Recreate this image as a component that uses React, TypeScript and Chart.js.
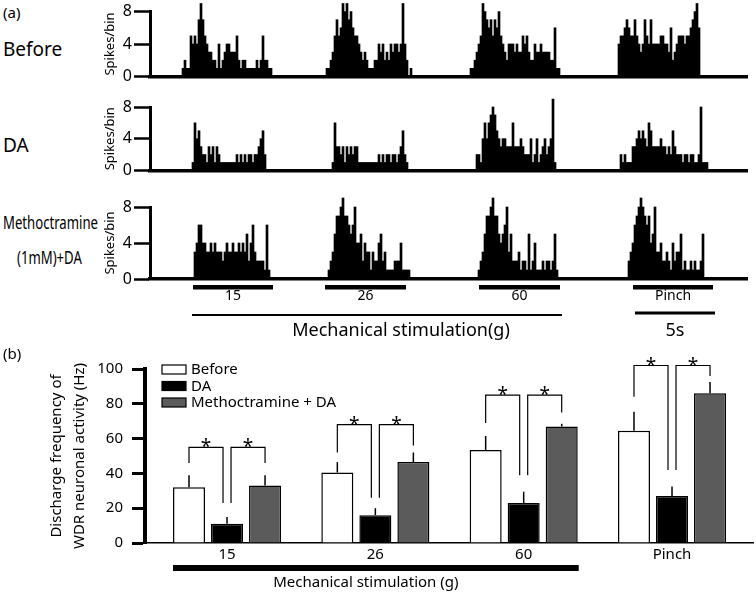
import React, { useEffect, useRef } from "react";
import { Chart, registerables } from "chart.js";
Chart.register(...registerables);

const FONT = "'Noto Sans', 'DejaVu Sans', sans-serif";

// ---------- Panel (a): spike histograms (bins of 0.125 s) ----------
const N_BINS = 299;
const Y_TICKS_A = [0, 4, 8];
const STIM_LABELS = ["15", "26", "60", "Pinch"];
const STIM_ON = [21.5, 87.5, 164.5, 241.5];
const STIM_OFF = [61.5, 128, 205, 281.5];
const MECH_LINE = [21, 206];
const PINCH_LINE = [242.5, 282.5];

const BEFORE_ONSETS = [16, 88, 160, 234];
const BEFORE_B1 = [1,2,1,1,5,4,5,4,7,9,7,5,4,3,3,2,2,1,4,1,2,3,4,4,3,3,3,5,2,1,2,2,1,1,1,1,1,2,1,2,5,2,2,1,1];
const BEFORE_B2 = [1,1,2,3,5,7,5,6,9,8,9,7,8,6,5,5,4,3,2,3,2,1,1,1,2,2,4,3,4,2,3,2,4,3,4,4,3,4,9,4,2,0,1];
const BEFORE_B3 = [1,1,2,3,4,5,9,8,7,6,7,5,7,6,8,5,4,3,2,4,4,4,3,4,3,3,5,4,5,3,2,2,4,3,3,4,3,3,3,3,2,2,6,1,1];
const BEFORE_B4 = [4,5,5,6,7,6,5,5,7,5,4,3,4,7,5,4,7,4,4,4,4,5,5,4,4,3,6,2,3,4,5,5,5,4,5,5,6,7,8,9,6];

const DA_ONSETS = [21, 91, 163, 235];
const DA_B1 = [1,6,4,5,3,2,2,1,3,2,3,1,3,2,1,1,1,1,1,1,1,1,2,1,2,1,2,1,2,2,1,2,2,3,4,5,2];
const DA_B2 = [1,6,3,3,2,3,1,3,2,3,2,3,3,1,1,1,1,1,1,1,1,1,1,2,1,2,1,2,2,1,2,2,1,2,3,5,2,1];
const DA_B3 = [2,2,1,4,6,4,6,7,8,7,5,4,3,4,4,3,3,3,6,3,3,3,4,3,2,2,2,4,1,2,4,1,2,3,4,2,3,4,9,1];
const DA_B4 = [2,1,2,1,1,1,3,3,4,5,4,5,4,3,6,5,3,3,3,3,4,3,3,2,3,2,5,3,2,2,2,1,2,2,1,2,2,1,1,2,8,1,1,1];

const METH_ONSETS = [22, 89, 164, 239];
const METH_B1 = [3,4,6,6,4,4,3,3,4,3,4,3,3,3,2,3,4,3,3,4,3,3,4,3,4,3,5,2,4,6,3,2,2,2,2,1,6,1];
const METH_B2 = [1,2,3,5,7,7,8,9,7,7,6,5,6,8,4,4,5,2,4,3,3,1,3,2,2,4,5,2,3,1,1,1,1,2,2,2,4,1,1,1,1];
const METH_B3 = [1,2,3,5,7,7,8,9,7,7,5,4,5,6,8,3,5,2,2,2,3,1,2,2,1,5,1,2,4,1,1,1,2,1,2,2,1,2,5,1];
const METH_B4 = [2,3,4,6,7,8,9,8,7,6,7,4,5,8,3,3,4,2,2,3,2,1,4,2,3,3,5,1,2,1,1,2,1,2,1,1,2,5];

// ---------- Panel (b): discharge frequency ----------
const GROUPS = ["15", "26", "60", "Pinch"];
const SERIES = ["Before", "DA", "Methoctramine + DA"];
const BEFORE = [32, 40.5, 53.5, 64.5];
const BEFORE_SEM = [7, 6, 8, 11];
const DA = [11, 16, 23, 27];
const DA_SEM = [4, 4, 6.5, 5.5];
const METH = [33, 46.5, 67, 86];
const METH_SEM = [6, 5.5, 1.5, 6.5];
const BRACKET_TOP = [55, 68, 85, 102];
const LEG_BEFORE = [46, 52, 69, 84];
const LEG_DA = [23, 26, 39, 42];
const LEG_METH = [46, 56, 75, 96];

function buildRow(onsets: number[], bursts: number[][]): number[] {
  const row = new Array(N_BINS).fill(0);
  bursts.forEach((b, k) => b.forEach((v, i) => { row[onsets[k] + i] = v; }));
  return row;
}
const BIN_LABELS = Array.from({ length: N_BINS }, (_, i) => String(i));

const stimPlugin = {
  id: "stim",
  afterDraw(chart: any) {
    const { ctx, chartArea: ca } = chart;
    const xs = chart.scales.x;
    const edge = (b: number) => xs.getPixelForValue(b - 0.5);
    ctx.save();
    ctx.fillStyle = "#000";
    ctx.strokeStyle = "#000";
    ctx.textAlign = "center";
    ctx.textBaseline = "middle";
    ctx.font = `14px ${FONT}`;
    STIM_ON.forEach((on, i) => {
      const x1 = edge(on), x2 = edge(STIM_OFF[i]);
      ctx.fillRect(x1, ca.bottom + 6, x2 - x1, 4.5);
      ctx.fillText(STIM_LABELS[i], (x1 + x2) / 2, ca.bottom + 17);
    });
    ctx.fillRect(edge(MECH_LINE[0]), ca.bottom + 35, edge(MECH_LINE[1]) - edge(MECH_LINE[0]), 2);
    ctx.fillRect(edge(PINCH_LINE[0]), ca.bottom + 32.5, edge(PINCH_LINE[1]) - edge(PINCH_LINE[0]), 3);
    ctx.font = `18px ${FONT}`;
    ctx.fillText("Mechanical stimulation(g)", edge(125.5), ca.bottom + 52);
    ctx.fillText("5s", edge((PINCH_LINE[0] + PINCH_LINE[1]) / 2), ca.bottom + 52);
    ctx.restore();
  },
};

function histConfig(data: number[], padTop: number, below: number, extra: any[]) {
  return {
    type: "bar" as const,
    data: {
      labels: BIN_LABELS,
      datasets: [{ data, backgroundColor: "#000", borderWidth: 0, barPercentage: 1, categoryPercentage: 1, clip: false }],
    },
    options: {
      animation: false as const,
      responsive: false,
      maintainAspectRatio: false,
      layout: { padding: { top: padTop, left: 0, right: 0, bottom: 0 } },
      plugins: { legend: { display: false }, tooltip: { enabled: false } },
      scales: {
        x: {
          type: "category" as const,
          grid: { display: false },
          ticks: { display: false },
          border: { display: true, color: "#000", width: 3.5 },
          afterFit: (s: any) => { s.height = below; },
        },
        y: {
          min: 0,
          max: 8,
          afterBuildTicks: (s: any) => { s.ticks = Y_TICKS_A.map((v) => ({ value: v })); },
          ticks: { color: "#000", font: { size: 16, family: FONT }, padding: 2 },
          grid: { drawOnChartArea: false, drawTicks: true, tickLength: 16, tickWidth: 2.5, tickColor: "#000", color: "#000" },
          border: { display: true, color: "#000", width: 3 },
          title: { display: true, text: "Spikes/bin", color: "#000", font: { size: 13, family: FONT }, padding: { top: 2, bottom: 0 } },
          afterFit: (s: any) => { s.width = 50; },
        },
      },
    },
    plugins: extra,
  };
}

const barPlugin = {
  id: "barExtras",
  afterDatasetsDraw(chart: any) {
    const { ctx, chartArea: ca } = chart;
    const ys = chart.scales.y;
    const y = (v: number) => ys.getPixelForValue(v);
    const metas = [0, 1, 2].map((i) => chart.getDatasetMeta(i));
    const vals = [BEFORE, DA, METH];
    const sems = [BEFORE_SEM, DA_SEM, METH_SEM];
    ctx.save();
    ctx.strokeStyle = "#000";
    ctx.lineWidth = 1.5;
    // error bars
    metas.forEach((m, si) => {
      m.data.forEach((el: any, j: number) => {
        ctx.beginPath();
        ctx.moveTo(el.x, y(vals[si][j]));
        ctx.lineTo(el.x, y(vals[si][j] + sems[si][j]));
        ctx.stroke();
      });
    });
    // significance brackets
    ctx.lineWidth = 1.2;
    ctx.fillStyle = "#000";
    ctx.font = `19px ${FONT}`;
    ctx.textAlign = "center";
    ctx.textBaseline = "alphabetic";
    GROUPS.forEach((_, j) => {
      const xB = metas[0].data[j].x, xD = metas[1].data[j].x, xM = metas[2].data[j].x;
      const yt = y(BRACKET_TOP[j]);
      ctx.beginPath();
      ctx.moveTo(xB, y(LEG_BEFORE[j]));
      ctx.lineTo(xB, yt);
      ctx.lineTo(xD - 4, yt);
      ctx.lineTo(xD - 4, y(LEG_DA[j]));
      ctx.moveTo(xD + 4, y(LEG_DA[j]));
      ctx.lineTo(xD + 4, yt);
      ctx.lineTo(xM, yt);
      ctx.lineTo(xM, y(LEG_METH[j]));
      ctx.stroke();
      ctx.fillText("*", (xB + xD - 4) / 2, yt + 6);
      ctx.fillText("*", (xD + 4 + xM) / 2, yt + 6);
    });
    // legend
    ctx.font = `15px ${FONT}`;
    ctx.textAlign = "left";
    ctx.textBaseline = "middle";
    chart.data.datasets.forEach((ds: any, i: number) => {
      const cy = ca.top + 0.5 + i * 16.5;
      const bx = ca.left + 17;
      ctx.fillStyle = ds.backgroundColor;
      ctx.fillRect(bx, cy - 4.5, 24, 9);
      ctx.lineWidth = 1.2;
      ctx.strokeRect(bx, cy - 4.5, 24, 9);
      ctx.fillStyle = "#000";
      ctx.fillText(ds.label, bx + 29, cy + 0.5);
    });
    // mechanical stimulation bar
    const w = metas[0].data[0].width;
    const x1 = metas[0].data[0].x - w / 2;
    const x2 = metas[2].data[2].x + w / 2 + 1;
    ctx.fillRect(x1, ca.bottom + 22, x2 - x1, 6);
    ctx.textAlign = "center";
    ctx.fillText("Mechanical stimulation (g)", (x1 + x2) / 2 - 10, ca.bottom + 40);
    ctx.restore();
  },
};

const ROWS = [
  { data: buildRow(BEFORE_ONSETS, [BEFORE_B1, BEFORE_B2, BEFORE_B3, BEFORE_B4]), top: 0, padTop: 11, area: 73, below: 4, stim: false },
  { data: buildRow(DA_ONSETS, [DA_B1, DA_B2, DA_B3, DA_B4]), top: 94, padTop: 13, area: 71, below: 4, stim: false },
  { data: buildRow(METH_ONSETS, [METH_B1, METH_B2, METH_B3, METH_B4]), top: 194, padTop: 13, area: 72, below: 75, stim: true },
];

const txt = (s: React.CSSProperties): React.CSSProperties => ({
  position: "absolute",
  fontFamily: FONT,
  color: "#000",
  whiteSpace: "nowrap",
  lineHeight: 1,
  ...s,
});

export default function App() {
  const r0 = useRef<HTMLCanvasElement>(null);
  const r1 = useRef<HTMLCanvasElement>(null);
  const r2 = useRef<HTMLCanvasElement>(null);
  const rb = useRef<HTMLCanvasElement>(null);

  useEffect(() => {
    const refs = [r0, r1, r2];
    const charts: Chart[] = [];
    ROWS.forEach((row, i) => {
      const c = refs[i].current;
      if (!c) return;
      charts.push(new Chart(c, histConfig(row.data, row.padTop, row.below, row.stim ? [stimPlugin] : []) as any));
    });
    if (rb.current) {
      const colors = ["#ffffff", "#000000", "#5b5b5b"];
      const series = [BEFORE, DA, METH];
      charts.push(
        new Chart(rb.current, {
          type: "bar",
          data: {
            datasets: series.map((s, i) => ({
              label: SERIES[i],
              data: s.map((v, j) => ({ x: j, y: v })),
              backgroundColor: colors[i],
              borderColor: "#000",
              borderWidth: 1.5,
              categoryPercentage: 0.769,
              barPercentage: 0.842,
            })),
          },
          options: {
            animation: false,
            responsive: false,
            maintainAspectRatio: false,
            layout: { padding: { top: 24, right: 3, left: 0, bottom: 0 } },
            plugins: { legend: { display: false }, tooltip: { enabled: false } },
            scales: {
              x: {
                type: "linear",
                offset: false,
                min: -0.553,
                max: 3.546,
                grid: { display: false, drawTicks: false, offset: false },
                border: { display: true, color: "#000", width: 1.5 },
                ticks: {
                  stepSize: 1,
                  autoSkip: false,
                  includeBounds: false,
                  color: "#000",
                  font: { size: 15, family: FONT },
                  padding: 3,
                  callback: (v: any) => (Number.isInteger(v) && GROUPS[v] !== undefined ? GROUPS[v] : ""),
                },
                afterFit: (s: any) => { s.height = 52; },
              },
              y: {
                min: 0,
                max: 100,
                ticks: { stepSize: 20, color: "#000", font: { size: 15, family: FONT }, padding: 9 },
                grid: { drawOnChartArea: false, drawTicks: true, tickLength: 13, tickWidth: 3, tickColor: "#000", color: "#000" },
                border: { display: true, color: "#000", width: 4 },
                title: {
                  display: true,
                  text: ["Discharge frequency of", "WDR neuronal activity (Hz)"],
                  color: "#000",
                  font: { size: 15, family: FONT, lineHeight: 1.5 },
                  padding: { top: 45.75, bottom: 0 },
                },
                afterFit: (s: any) => { s.width = 145; },
              },
            },
          },
          plugins: [barPlugin],
        } as any)
      );
    }
    return () => charts.forEach((c) => c.destroy());
  }, []);

  const rowRefs = [r0, r1, r2];
  return (
    <div style={{ position: "fixed", left: 0, top: 0, width: 756, height: 595, background: "#fff", overflow: "hidden" }}>
      {ROWS.map((row, i) => {
        const h = row.padTop + row.area + row.below;
        return (
          <canvas
            key={i}
            ref={rowRefs[i]}
            width={648}
            height={h}
            style={{ position: "absolute", left: 100, top: row.top, width: 648, height: h }}
          />
        );
      })}
      <canvas ref={rb} width={756} height={250} style={{ position: "absolute", left: 0, top: 345, width: 756, height: 250 }} />
      <div style={txt({ left: 3, top: 5, fontSize: 15 })}>(a)</div>
      <div style={txt({ left: 3, top: 40, fontSize: 19 })}>Before</div>
      <div style={txt({ left: 3, top: 136, fontSize: 19 })}>DA</div>
      <div style={txt({ left: 3, top: 213, fontSize: 18, transform: "scaleX(0.73)", transformOrigin: "0 0" })}>Methoctramine</div>
      <div style={txt({ left: 17, top: 248, fontSize: 18, transform: "scaleX(0.73)", transformOrigin: "0 0" })}>(1mM)+DA</div>
      <div style={txt({ left: 3, top: 346, fontSize: 15 })}>(b)</div>
    </div>
  );
}
